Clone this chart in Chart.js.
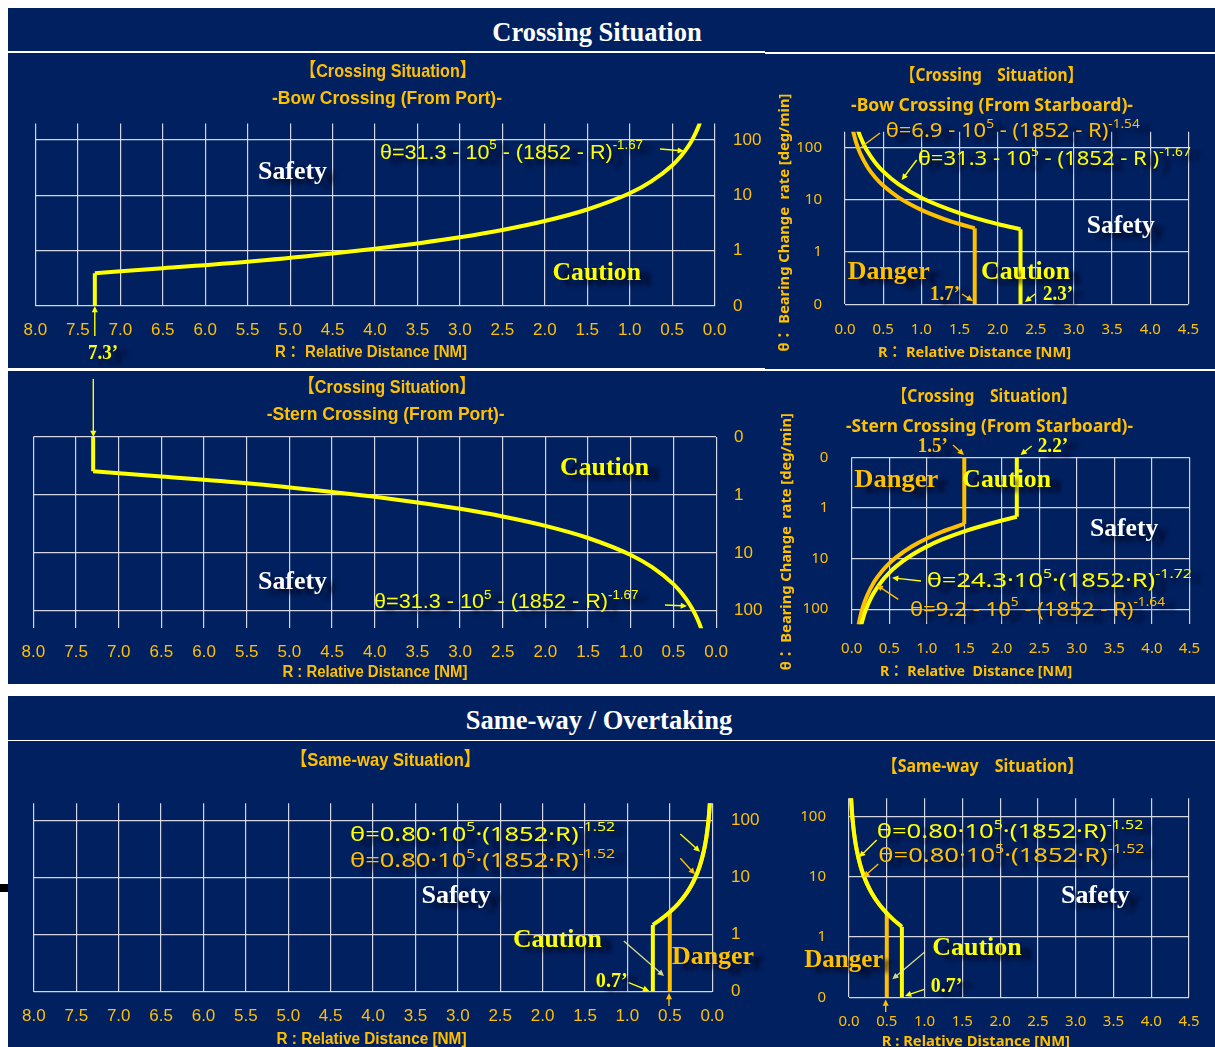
<!DOCTYPE html>
<html>
<head>
<meta charset="utf-8">
<script src="https://cdn.jsdelivr.net/npm/chart.js@4.4.1/dist/chart.umd.min.js"></script>
<style>
  html, body { margin: 0; padding: 0; background: #ffffff; width: 1215px; height: 1047px; overflow: hidden; position: relative; }
  .navy { position: absolute; background: #002060; }
  .rule { position: absolute; background: #ffffff; }
  .head { position: absolute; transform: translateX(-50%); white-space: nowrap; color: #ffffff;
          font: bold 26.5px 'Liberation Serif', 'Times New Roman', serif; height: 44px; line-height: 44px; }
  canvas { position: absolute; }
</style>
</head>
<body>
<div class="navy" style="left:8px;top:8px;width:1207px;height:676px"></div>
<div class="rule" style="left:8px;top:51px;width:757px;height:2px"></div>
<div class="rule" style="left:765px;top:52px;width:450px;height:2px"></div>
<div class="rule" style="left:8px;top:368px;width:757px;height:3px"></div>
<div class="rule" style="left:765px;top:369px;width:450px;height:1.5px"></div>
<div class="navy" style="left:8px;top:696px;width:1207px;height:351px"></div>
<div class="rule" style="left:8px;top:739.5px;width:1207px;height:1.5px"></div>
<div style="position:absolute;left:0;top:884px;width:8px;height:8px;background:#000"></div>
<div class="head" style="left:597px;top:9.7px">Crossing Situation</div>
<div class="head" style="left:599px;top:698px">Same-way / Overtaking</div>

<canvas id="bowPort"></canvas>
<canvas id="bowStbd"></canvas>
<canvas id="sternPort"></canvas>
<canvas id="sternStbd"></canvas>
<canvas id="samePort"></canvas>
<canvas id="sameStbd"></canvas>

<script>
// Bearing-change-rate axis: 0, 1, 10, 100 deg/min on equal steps
const yTickLabels = ['0', '1', '10', '100'];

// Bow crossing from port: θ = 31.3·10^5·(1852·R)^-1.67, caution from 7.3'
const bowPortR     = [7.3, 7.3, 6.5, 5.5, 4.5, 4.0, 3.5, 3.0, 2.5, 2.0, 1.5, 1.0, 0.75, 0.5, 0.4, 0.3, 0.25, 0.2, 0.16];
const bowPortTheta = [0, 0.39, 0.48, 0.63, 0.89, 1.08, 1.35, 1.74, 2.36, 3.43, 5.55, 10.9, 17.7, 34.7, 50.4, 81.6, 111, 161, 233];

// Stern crossing from port: same boundary on an inverted axis
const sternPortR     = [7.3, 7.3, 6.5, 5.5, 4.5, 4.0, 3.5, 3.0, 2.5, 2.0, 1.5, 1.0, 0.75, 0.5, 0.4, 0.3, 0.25, 0.2, 0.16];
const sternPortTheta = [0, 0.39, 0.48, 0.63, 0.89, 1.08, 1.35, 1.74, 2.36, 3.43, 5.55, 10.9, 17.7, 34.7, 50.4, 81.6, 111, 161, 233];

// Bow crossing from starboard: danger 6.9·10^5 (1.7'), caution 31.3·10^5 (2.3')
const bowStbdDangerR      = [1.7, 1.7, 1.5, 1.3, 1.0, 0.7, 0.5, 0.4, 0.3, 0.2, 0.15, 0.1];
const bowStbdDangerTheta  = [0, 2.83, 3.43, 4.27, 6.40, 11.1, 18.6, 26.3, 40.9, 76.3, 119, 222];
const bowStbdCautionR     = [2.3, 2.3, 2.0, 1.5, 1.0, 0.7, 0.5, 0.4, 0.3, 0.25, 0.2, 0.16];
const bowStbdCautionTheta = [0, 2.72, 3.43, 5.55, 10.9, 19.8, 34.7, 50.4, 81.6, 111, 161, 233];

// Stern crossing from starboard: danger 9.2·10^5 (1.5'), caution 24.3·10^5 (2.2')
const sternStbdDangerR      = [1.5, 1.5, 1.2, 1.0, 0.8, 0.6, 0.5, 0.4, 0.3, 0.2, 0.15, 0.12, 0.09];
const sternStbdDangerTheta  = [0, 2.07, 2.98, 4.02, 5.80, 9.29, 12.5, 18.1, 28.9, 56.5, 90.2, 130, 209];
const sternStbdCautionR     = [2.2, 2.2, 2.0, 1.5, 1.2, 1.0, 0.8, 0.6, 0.5, 0.4, 0.3, 0.25, 0.2, 0.17, 0.12];
const sternStbdCautionTheta = [0, 1.50, 1.77, 2.90, 4.25, 5.82, 8.54, 14.0, 19.2, 28.1, 46.2, 63.1, 92.7, 123, 223];

// Same-way: θ = 0.80·10^5·(1852·R)^-1.52, caution from 0.7', danger from 0.5'
const sameCautionR     = [0.7, 0.7, 0.6, 0.5, 0.4, 0.3, 0.25, 0.2, 0.15, 0.1, 0.07, 0.05, 0.04, 0.03, 0.025];
const sameCautionTheta = [0, 1.48, 1.88, 2.48, 3.47, 5.38, 7.1, 9.97, 15.4, 28.6, 49.1, 82, 115, 178, 235];
const sameDangerR      = [0.5, 0.5, 0.4, 0.3, 0.25, 0.2, 0.15, 0.1, 0.07, 0.05, 0.04, 0.03, 0.025];
const sameDangerTheta  = [0, 2.48, 3.47, 5.38, 7.1, 9.97, 15.4, 28.6, 49.1, 82, 115, 178, 235];

const YEL = '#FFFF00';
const GOLD = '#FFC000';
const WHITE = '#FFFFFF';
const GRID = 'rgba(222,224,232,0.95)';
const NARROW = "'Liberation Sans Narrow', 'Arial Narrow', 'Liberation Sans', 'Noto Sans CJK JP', sans-serif";
const SANS = "'Noto Sans', 'Noto Sans CJK JP', sans-serif";
const SERIF = "'Liberation Serif', 'Times New Roman', serif";

// position on the 0/1/10/100 axis
function level(theta) { return theta > 0 ? 1 + Math.log10(theta) : 0; }

// a boundary = vertical start segment + smooth decaying curve
function boundary(rs, thetas, color) {
  const pts = rs.map((r, i) => ({ x: r, y: level(thetas[i]) }));
  const base = { borderColor: color, borderWidth: 4, pointRadius: 0, showLine: true };
  return [
    Object.assign({ data: pts.slice(0, 2), tension: 0 }, base),
    Object.assign({ data: pts.slice(1), cubicInterpolationMode: 'monotone' }, base)
  ];
}

function parseRich(str) {
  const segs = []; const re = /\^\{([^}]*)\}/g; let last = 0, m;
  while ((m = re.exec(str))) {
    if (m.index > last) segs.push({ t: str.slice(last, m.index), sup: false });
    segs.push({ t: m[1], sup: true }); last = re.lastIndex;
  }
  if (last < str.length) segs.push({ t: str.slice(last), sup: false });
  return segs;
}

function drawText(ctx, it, ox, oy) {
  const segs = parseRich(it.text);
  const fontOf = s => `${it.weight || 'normal'} ${s}px ${it.family}`;
  let total = 0;
  segs.forEach(s => { ctx.font = fontOf(s.sup ? it.size * 0.62 : it.size); s.w = ctx.measureText(s.t).width; total += s.w; });
  const sx = it.w ? it.w / total : 1;
  ctx.save();
  if (it.rot) {
    ctx.translate(it.cx - ox, it.cy - oy); ctx.rotate(it.rot); ctx.translate(-total * sx / 2, 0);
  } else {
    ctx.translate(it.x - ox, it.y - oy);
  }
  ctx.scale(sx, 1);
  if (it.shadow) {
    ctx.shadowColor = 'rgba(0,0,20,0.75)'; ctx.shadowOffsetX = 10; ctx.shadowOffsetY = 5; ctx.shadowBlur = 4;
  }
  ctx.fillStyle = it.color; ctx.textBaseline = 'middle'; ctx.textAlign = 'left';
  let x = 0;
  segs.forEach(s => {
    ctx.font = fontOf(s.sup ? it.size * 0.62 : it.size);
    ctx.fillText(s.t, x, s.sup ? -it.size * 0.36 : 0);
    x += s.w;
  });
  ctx.restore();
}

function drawArrow(ctx, a, ox, oy) {
  const x1 = a.x1 - ox, y1 = a.y1 - oy, x2 = a.x2 - ox, y2 = a.y2 - oy;
  const ang = Math.atan2(y2 - y1, x2 - x1);
  const hl = a.head === false ? 0 : 7;
  ctx.save();
  ctx.strokeStyle = a.color; ctx.fillStyle = a.color; ctx.lineWidth = a.lw || 1.4;
  ctx.beginPath(); ctx.moveTo(x1, y1);
  ctx.lineTo(x2 - Math.cos(ang) * hl * 0.8, y2 - Math.sin(ang) * hl * 0.8); ctx.stroke();
  if (hl) {
    ctx.beginPath(); ctx.moveTo(x2, y2);
    ctx.lineTo(x2 - hl * Math.cos(ang - 0.45), y2 - hl * Math.sin(ang - 0.45));
    ctx.lineTo(x2 - hl * Math.cos(ang + 0.45), y2 - hl * Math.sin(ang + 0.45));
    ctx.closePath(); ctx.fill();
  }
  ctx.restore();
}

// text helpers (page coordinates)
const T = (text, x, y, w, size, family, color, weight, shadow) => ({ kind: 'text', text, x, y, w, size, family, color, weight, shadow });
const label = (text, x, y, w, color) => T(text, x, y, w, 26, SERIF, color, 'bold', true);
const small = (text, x, y, w, color) => T(text, x, y, w, 20, SERIF, color, 'bold', true);
const A = (x1, y1, x2, y2, color, head) => ({ kind: 'arrow', x1, y1, x2, y2, color, head });
const yTitle = (cx, cy, w) => ({ kind: 'text', text: 'θ： Bearing Change  rate [deg/min]', cx, cy, w, rot: -Math.PI / 2, size: 15, family: SANS, color: GOLD, weight: 'bold' });

const panels = [
  {
    id: 'bowPort', canvas: { x: 8, y: 53, w: 757, h: 315 }, area: { l: 35.4, t: 123.5, r: 714.6, b: 305.9 },
    xMax: 8, xReverse: true, yReverse: false, yPos: 'right', tickFont: { family: NARROW, size: 17 }, xPad: 13.9, yPad: 18.4,
    series: [[bowPortR, bowPortTheta, YEL]],
    notes: [
      T('【Crossing Situation】', 300, 72, 176, 19, NARROW, GOLD, 'bold'),
      T('-Bow Crossing (From Port)-', 272, 99, 230, 19, NARROW, GOLD, 'bold'),
      label('Safety', 258, 172, 69, WHITE),
      label('Caution', 552.5, 273, 88.5, YEL),
      T('θ=31.3 - 10^{5} - (1852 - R)^{-1.67}', 380, 153, 263, 21, NARROW, YEL, 'normal', true),
      A(660, 149, 684, 151, YEL),
      small('7.3’', 88, 354, 30, YEL),
      A(94.8, 336, 94.8, 306, YEL),
      T('R： Relative Distance [NM]', 275, 353, 192, 16, NARROW, GOLD, 'bold')
    ]
  },
  {
    id: 'bowStbd', canvas: { x: 765, y: 53, w: 450, h: 315 }, area: { l: 845, t: 131.7, r: 1195, b: 304.3 },
    xMax: 4.5, xReverse: false, yReverse: false, yPos: 'left', tickFont: { family: SANS, size: 15 }, xPad: 16, yPad: 23,
    series: [[bowStbdCautionR, bowStbdCautionTheta, YEL], [bowStbdDangerR, bowStbdDangerTheta, GOLD]],
    notes: [
      T('【Crossing　Situation】', 900, 76, 183, 18, SANS, GOLD, 'bold'),
      T('-Bow Crossing (From Starboard)-', 851, 105.7, 282, 18, SANS, GOLD, 'bold'),
      T('θ=6.9 - 10^{5} - (1852 - R)^{-1.54}', 885.7, 131.7, 254, 20, SANS, GOLD, 'normal', true),
      T('θ=31.3 - 10^{5} - (1852 - R )^{-1.67}', 917.7, 159.3, 273, 20, SANS, YEL, 'normal', true),
      A(880, 133, 861.7, 146.7, GOLD, false),
      A(916.7, 160, 901.7, 180, YEL),
      label('Safety', 1086.7, 226.7, 68, WHITE),
      label('Danger', 847.7, 272.7, 82, GOLD),
      label('Caution', 981, 272.7, 89, YEL),
      small('1.7’', 930, 295, 30, GOLD),
      A(962, 294, 973, 301, GOLD),
      small('2.3’', 1043, 295, 30, YEL),
      A(1035, 294, 1025, 302, YEL),
      T('R： Relative Distance [NM]', 878, 352.7, 193, 15, SANS, GOLD, 'bold'),
      yTitle(785, 222.5, 258)
    ]
  },
  {
    id: 'sternPort', canvas: { x: 8, y: 371, w: 757, h: 313 }, area: { l: 33.4, t: 436.9, r: 716.1, b: 628.2 },
    xMax: 8, xReverse: true, yReverse: true, yPos: 'right', tickFont: { family: NARROW, size: 17 }, xPad: 13.6, yPad: 18,
    series: [[sternPortR, sternPortTheta, YEL]],
    notes: [
      T('【Crossing Situation】', 298.6, 387.7, 177, 19, NARROW, GOLD, 'bold'),
      T('-Stern Crossing (From Port)-', 266.7, 415, 238, 19, NARROW, GOLD, 'bold'),
      A(93.3, 379, 93.3, 437, YEL),
      label('Caution', 560, 468, 89, YEL),
      label('Safety', 258, 582.4, 69, WHITE),
      T('θ=31.3 - 10^{5} - (1852 - R)^{-1.67}', 374, 602.5, 264.5, 21, NARROW, YEL, 'normal', true),
      A(665, 605, 687, 606, YEL),
      T('R : Relative Distance [NM]', 282.4, 672.7, 185, 16, NARROW, GOLD, 'bold')
    ]
  },
  {
    id: 'sternStbd', canvas: { x: 765, y: 371, w: 450, h: 313 }, area: { l: 851.7, t: 457.3, r: 1191.7, b: 624.3 },
    xMax: 4.5, xReverse: false, yReverse: true, yPos: 'left', tickFont: { family: SANS, size: 15 }, xPad: 15, yPad: 23.4,
    series: [[sternStbdCautionR, sternStbdCautionTheta, YEL], [sternStbdDangerR, sternStbdDangerTheta, GOLD]],
    notes: [
      T('【Crossing　Situation】', 891.7, 396.7, 185, 18, SANS, GOLD, 'bold'),
      T('-Stern Crossing (From Starboard)-', 846, 426.7, 287, 18, SANS, GOLD, 'bold'),
      small('1.5’', 917.7, 447.3, 30, GOLD),
      A(953, 445, 964, 455, GOLD),
      small('2.2’', 1037.7, 447.3, 30.6, YEL),
      A(1031.7, 446, 1020.5, 455, YEL),
      label('Danger', 854.3, 480, 84, GOLD),
      label('Caution', 962.3, 480, 88.7, YEL),
      label('Safety', 1090, 529, 68.3, WHITE),
      T('θ=24.3·10^{5}·(1852·R)^{-1.72}', 926.7, 581.7, 265, 20, SANS, YEL, 'normal', true),
      A(921, 581, 892, 577.7, YEL),
      T('θ=9.2 - 10^{5} - (1852 - R)^{-1.64}', 910, 610, 255, 20, SANS, GOLD, 'normal', true),
      A(898.3, 599.3, 876.7, 585, GOLD),
      T('R： Relative  Distance [NM]', 880, 671.7, 192.3, 15, SANS, GOLD, 'bold'),
      yTitle(786.7, 541.7, 257)
    ]
  },
  {
    id: 'samePort', canvas: { x: 8, y: 741, w: 757, h: 306 }, area: { l: 30.9, t: 803.3, r: 712.2, b: 991.7 },
    xMax: 8, xReverse: true, yReverse: false, yPos: 'right', tickFont: { family: NARROW, size: 17 }, xPad: 14.1, yPad: 18.8,
    series: [[sameCautionR, sameCautionTheta, YEL], [sameDangerR, sameDangerTheta, GOLD]],
    notes: [
      T('【Same-way Situation】', 290.8, 761, 189.6, 19, NARROW, GOLD, 'bold'),
      T('θ=0.80·10^{5}·(1852·R)^{-1.52}', 350, 835, 265, 20, SANS, YEL, 'normal', true),
      T('θ=0.80·10^{5}·(1852·R)^{-1.52}', 350, 861.7, 265, 20, SANS, GOLD, 'normal', true),
      A(680.3, 834, 700, 851.7, YEL),
      A(680.3, 858.3, 695, 874.3, GOLD),
      label('Safety', 421.4, 896, 69.6, WHITE),
      label('Caution', 513, 940, 88.7, YEL),
      label('Danger', 672, 957.7, 82, GOLD),
      A(623.8, 941, 664, 976, 'rgba(235,235,140,0.9)'),
      small('0.7’', 595.8, 981.7, 32, YEL),
      A(628.7, 982.7, 649.3, 991, YEL),
      A(669, 1006, 669, 993, GOLD),
      T('R : Relative Distance [NM]', 276.5, 1039.3, 190, 16, NARROW, GOLD, 'bold')
    ]
  },
  {
    id: 'sameStbd', canvas: { x: 765, y: 741, w: 450, h: 306 }, area: { l: 849, t: 798.3, r: 1191.7, b: 997.3 },
    xMax: 4.5, xReverse: false, yReverse: false, yPos: 'left', tickFont: { family: SANS, size: 15 }, xPad: 15.4, yPad: 23,
    series: [[sameCautionR, sameCautionTheta, YEL], [sameDangerR, sameDangerTheta, GOLD]],
    notes: [
      T('【Same-way　Situation】', 881.7, 766.7, 201.6, 18, SANS, GOLD, 'bold'),
      T('θ=0.80·10^{5}·(1852·R)^{-1.52}', 876.7, 832.7, 266.6, 20, SANS, YEL, 'normal', true),
      T('θ=0.80·10^{5}·(1852·R)^{-1.52}', 878.3, 856.7, 266, 20, SANS, GOLD, 'normal', true),
      A(876.7, 840, 859, 857.3, YEL),
      A(878.3, 864, 863.3, 877.3, GOLD),
      label('Safety', 1061, 896.7, 69, WHITE),
      label('Caution', 932.3, 948.3, 89.4, YEL),
      label('Danger', 804.3, 960, 79, GOLD),
      A(925, 951.7, 892.3, 979.3, 'rgba(235,235,140,0.9)'),
      small('0.7’', 930.7, 987.3, 31.6, YEL),
      A(924.3, 989.3, 905, 996, YEL),
      A(885.7, 1012, 885.7, 999.5, GOLD),
      T('R : Relative Distance [NM]', 881.7, 1041.7, 188.3, 15, SANS, GOLD, 'bold')
    ]
  }
];

function makeChart(p) {
  const c = p.canvas, a = p.area;
  const el = document.getElementById(p.id);
  el.width = c.w; el.height = c.h;
  Object.assign(el.style, { left: c.x + 'px', top: c.y + 'px', width: c.w + 'px', height: c.h + 'px' });
  const yRight = p.yPos === 'right';
  const yWidth = yRight ? c.x + c.w - a.r : a.l - c.x;
  const xHeight = c.y + c.h - a.b;
  const datasets = [];
  p.series.forEach(([rs, th, color]) => datasets.push(...boundary(rs, th, color)));
  const notesPlugin = {
    id: 'notes_' + p.id,
    afterDraw(chart) {
      const ctx = chart.ctx;
      p.notes.forEach(n => n.kind === 'arrow' ? drawArrow(ctx, n, c.x, c.y) : drawText(ctx, n, c.x, c.y));
    }
  };
  return new Chart(el, {
    type: 'scatter',
    data: { datasets },
    plugins: [notesPlugin],
    options: {
      responsive: false, animation: false, devicePixelRatio: 1,
      layout: { padding: { left: yRight ? a.l - c.x : 0, top: a.t - c.y, right: yRight ? 0 : c.x + c.w - a.r, bottom: 0 } },
      plugins: { legend: { display: false }, tooltip: { enabled: false } },
      scales: {
        x: {
          type: 'linear', position: 'bottom', min: 0, max: p.xMax, reverse: p.xReverse,
          grid: { color: GRID, lineWidth: 1.2, drawTicks: false },
          border: { display: false },
          ticks: { stepSize: 0.5, autoSkip: false, maxRotation: 0, padding: p.xPad, color: GOLD, font: p.tickFont,
                   callback: v => Number(v).toFixed(1) },
          afterFit: s => { s.height = xHeight; }
        },
        y: {
          type: 'linear', position: p.yPos, min: 0, max: 3.3, reverse: p.yReverse,
          grid: { color: GRID, lineWidth: 1.2, drawTicks: false },
          border: { display: false },
          afterBuildTicks: s => { s.ticks = yTickLabels.map((_, i) => ({ value: i })); },
          ticks: { padding: p.yPad, color: GOLD, font: p.tickFont, callback: v => yTickLabels[v] },
          afterFit: s => { s.width = yWidth; }
        }
      }
    }
  });
}

panels.forEach(makeChart);
</script>
</body>
</html>
